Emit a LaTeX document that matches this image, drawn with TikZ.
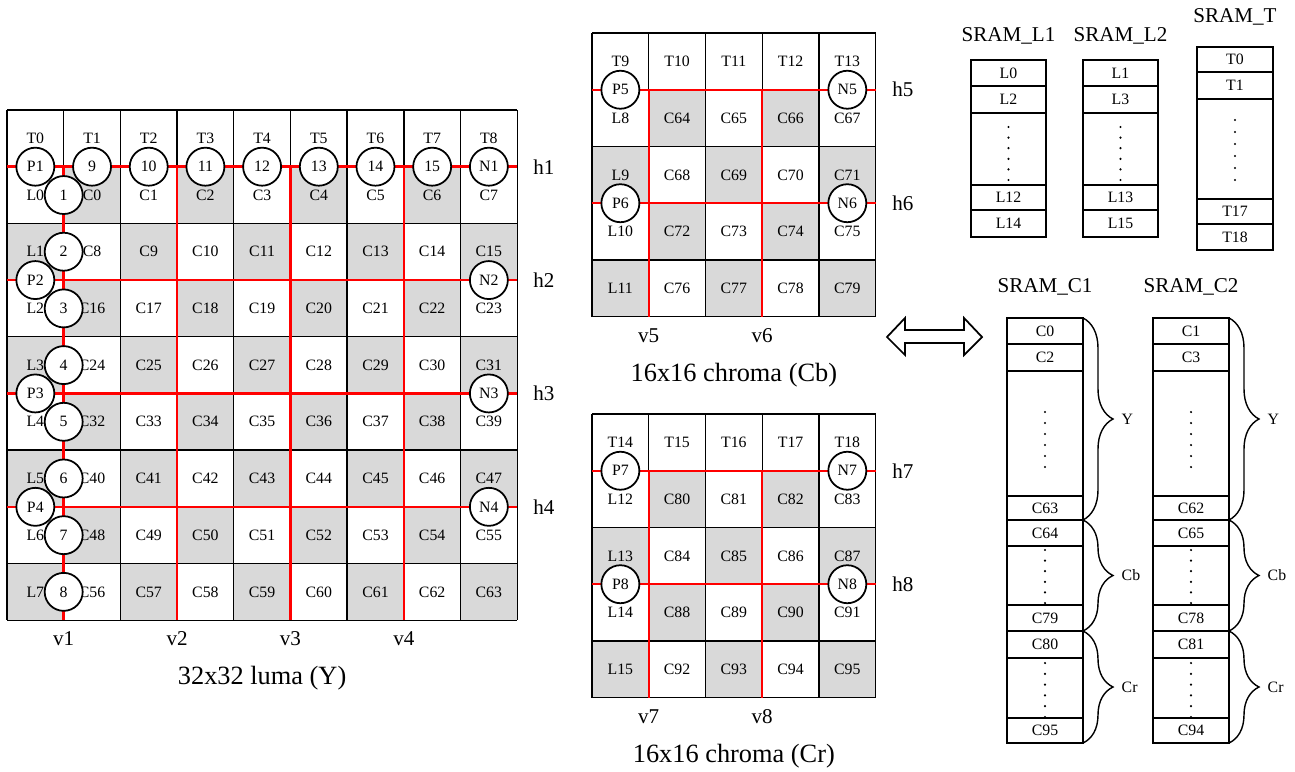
\documentclass[tikz,border=0pt]{standalone}
\usepackage{fontspec}
\setmainfont{Liberation Serif}
\usetikzlibrary{decorations.pathreplacing}
\definecolor{cellgray}{RGB}{217,217,217}
\definecolor{edgered}{RGB}{255,0,0}

\tikzset{
  cell/.style={font=\fontsize{9}{10}\selectfont, inner sep=0pt},
  tag/.style={font=\fontsize{12}{14}\selectfont, inner sep=0pt},
  caption/.style={font=\fontsize{15}{17}\selectfont, inner sep=0pt},
  pixel/.style={circle, draw, fill=white, line width=1pt, minimum size=0.76cm,
    inner sep=0pt, font=\fontsize{9}{10}\selectfont},
  edgeline/.style={edgered, line width=1.4pt},
  gridline/.style={line width=0.8pt},
  sram/.style={line width=1pt},
  regionbrace/.style={decorate, decoration={brace, amplitude=0.6cm}, line width=0.8pt}
}

\begin{document}
\begin{tikzpicture}[x=0.02cm, y=-0.02cm]
  \useasboundingbox (0,0) rectangle (1295,771);

  % 32x32 luma block
  \begin{scope}[shift={(7,110)}, x=1.134cm, y=-1.134cm]
    \foreach \r in {1,...,8} {
      \foreach \c in {0,...,8} {
        \pgfmathtruncatemacro{\odd}{mod(\r+\c,2)}
        \ifnum\odd=0 \fill[cellgray] (\c,\r) rectangle (\c+1,\r+1); \fi
      }
    }
    \foreach \i in {0,...,9} {
      \draw[gridline] (\i,0) -- (\i,9);
      \draw[gridline] (0,\i) -- (9,\i);
    }
    \foreach \k/\y in {1/1,2/3,3/5,4/7} {
      \draw[edgeline] (0,\y) -- (9,\y);
      \draw[edgeline] (\y,1) -- (\y,9);
      \node[tag] (h\k) at (9.47,\y) {h\k};
      \node[tag] (v\k) at (\y,9.32) {v\k};
    }
    \foreach \c in {0,...,8}
      \node[cell] (T\c) at (\c+0.5,0.5) {T\c};
    \foreach \r in {1,...,8} {
      \pgfmathtruncatemacro{\lnum}{\r-1}
      \node[cell] (L\lnum) at (0.5,\r+0.5) {L\lnum};
      \foreach \c in {1,...,8} {
        \pgfmathtruncatemacro{\cnum}{8*(\r-1)+\c-1}
        \node[cell] (C\cnum) at (\c+0.5,\r+0.5) {C\cnum};
      }
    }
    \foreach \k/\y in {1/1,2/3,3/5,4/7} {
      \node[pixel] (P\k) at (0.5,\y) {P\k};
      \node[pixel] (N\k) at (8.5,\y) {N\k};
    }
    \foreach \c in {1,...,7} {
      \pgfmathtruncatemacro{\pnum}{\c+8}
      \node[pixel] (top\pnum) at (\c+0.5,1) {\pnum};
    }
    \foreach \r in {1,...,8}
      \node[pixel] (side\r) at (1,\r+0.5) {\r};
    \node[caption] (lumacap) at (4.5,10.02) {32x32 luma (Y)};
  \end{scope}

  % 16x16 chroma blocks
  \foreach \gy/\tb/\lb/\cb/\k/\cap in {33/9/8/64/5/Cb, 414/14/12/80/7/Cr} {
    \begin{scope}[shift={(592,\gy)}, x=1.135cm, y=-1.135cm]
      \foreach \r in {1,...,4} {
        \foreach \c in {0,...,4} {
          \pgfmathtruncatemacro{\odd}{mod(\r+\c,2)}
          \ifnum\odd=0 \fill[cellgray] (\c,\r) rectangle (\c+1,\r+1); \fi
        }
      }
      \foreach \i in {0,...,5} {
        \draw[gridline] (\i,0) -- (\i,5);
        \draw[gridline] (0,\i) -- (5,\i);
      }
      \foreach \j/\y in {0/1,1/3} {
        \pgfmathtruncatemacro{\e}{\k+\j}
        \draw[edgeline] (0,\y) -- (5,\y);
        \draw[edgeline] (\y,1) -- (\y,5);
        \node[tag] (h\e) at (5.48,\y) {h\e};
        \node[tag] (v\e) at (\y,5.33) {v\e};
      }
      \foreach \c in {0,...,4} {
        \pgfmathtruncatemacro{\tnum}{\tb+\c}
        \node[cell] (T\tnum) at (\c+0.5,0.5) {T\tnum};
      }
      \foreach \r in {1,...,4} {
        \pgfmathtruncatemacro{\lnum}{\lb+\r-1}
        \node[cell] (L\lnum) at (0.5,\r+0.5) {L\lnum};
        \foreach \c in {1,...,4} {
          \pgfmathtruncatemacro{\cnum}{\cb+4*(\r-1)+\c-1}
          \node[cell] (C\cnum) at (\c+0.5,\r+0.5) {C\cnum};
        }
      }
      \foreach \j/\y in {0/1,1/3} {
        \pgfmathtruncatemacro{\e}{\k+\j}
        \node[pixel] (P\e) at (0.5,\y) {P\e};
        \node[pixel] (N\e) at (4.5,\y) {N\e};
      }
      \node[caption] (cap\cap) at (2.5,6.03) {16x16 chroma (\cap)};
    \end{scope}
  }

  % transfer arrow
  \draw[line width=1pt, fill=white] (887,337) -- (905,318) -- (905,330) -- (964,330)
    -- (964,318) -- (982,337) -- (964,355) -- (964,343) -- (905,343) -- (905,355) -- cycle;

  % line buffers
  \foreach \bx/\nm/\a/\b/\c/\d in {971/L1/L0/L2/L12/L14, 1083/L2/L1/L3/L13/L15} {
    \draw[sram] (\bx,60) rectangle (\bx+75,237);
    \foreach \yy in {86,113,185,210}
      \draw[sram] (\bx,\yy) -- (\bx+75,\yy);
    \node[tag] (sram\nm) at (\bx+37.5,36) {SRAM\_\nm};
    \node[cell] (s\nm a) at (\bx+37.5,73) {\a};
    \node[cell] (s\nm b) at (\bx+37.5,99.5) {\b};
    \node[cell] (s\nm c) at (\bx+37.5,197.5) {\c};
    \node[cell] (s\nm d) at (\bx+37.5,223.5) {\d};
    \foreach \i in {0,...,5}
      \fill (\bx+37.5,127+\i*10.6) circle (0.7pt);
  }

  % top buffer
  \draw[sram] (1197,47) rectangle (1273,250);
  \foreach \yy in {72,99,199,224}
    \draw[sram] (1197,\yy) -- (1273,\yy);
  \node[tag] (sramT) at (1235,17) {SRAM\_T};
  \node[cell] (sT0) at (1235,59.5) {T0};
  \node[cell] (sT1) at (1235,85.5) {T1};
  \node[cell] (sT17) at (1235,211.5) {T17};
  \node[cell] (sT18) at (1235,237) {T18};
  \foreach \i in {0,...,5}
    \fill (1235,120+\i*12) circle (0.7pt);

  % coefficient buffers
  \foreach \bx/\nm/\a/\b/\c/\d/\e/\f/\g in
      {1007/C1/C0/C2/C63/C64/C79/C80/C95, 1153/C2/C1/C3/C62/C65/C78/C81/C94} {
    \draw[sram] (\bx,318) rectangle (\bx+76,743);
    \foreach \yy in {344,371,496,520,546,605,631,658,718}
      \draw[sram] (\bx,\yy) -- (\bx+76,\yy);
    \node[tag] (sram\nm) at (\bx+38,287) {SRAM\_\nm};
    \node[cell] (s\nm a) at (\bx+38,331) {\a};
    \node[cell] (s\nm b) at (\bx+38,357.5) {\b};
    \node[cell] (s\nm c) at (\bx+38,508) {\c};
    \node[cell] (s\nm d) at (\bx+38,533) {\d};
    \node[cell] (s\nm e) at (\bx+38,618) {\e};
    \node[cell] (s\nm f) at (\bx+38,644.5) {\f};
    \node[cell] (s\nm g) at (\bx+38,730.5) {\g};
    \foreach \i in {0,...,5} {
      \fill (\bx+38,412+\i*11) circle (0.7pt);
      \fill (\bx+38,550+\i*10.6) circle (0.7pt);
      \fill (\bx+38,663+\i*10.8) circle (0.7pt);
    }
    \coordinate (\nm y0) at (\bx+76,318);
    \coordinate (\nm y1) at (\bx+76,520);
    \coordinate (\nm y2) at (\bx+76,631);
    \coordinate (\nm y3) at (\bx+76,743);
    \draw[regionbrace] (\nm y0) -- (\nm y1) node[cell, midway, anchor=west, xshift=0.76cm] {Y};
    \draw[regionbrace] (\nm y1) -- (\nm y2) node[cell, midway, anchor=west, xshift=0.76cm] {Cb};
    \draw[regionbrace] (\nm y2) -- (\nm y3) node[cell, midway, anchor=west, xshift=0.76cm] {Cr};
  }
\end{tikzpicture}
\end{document}
